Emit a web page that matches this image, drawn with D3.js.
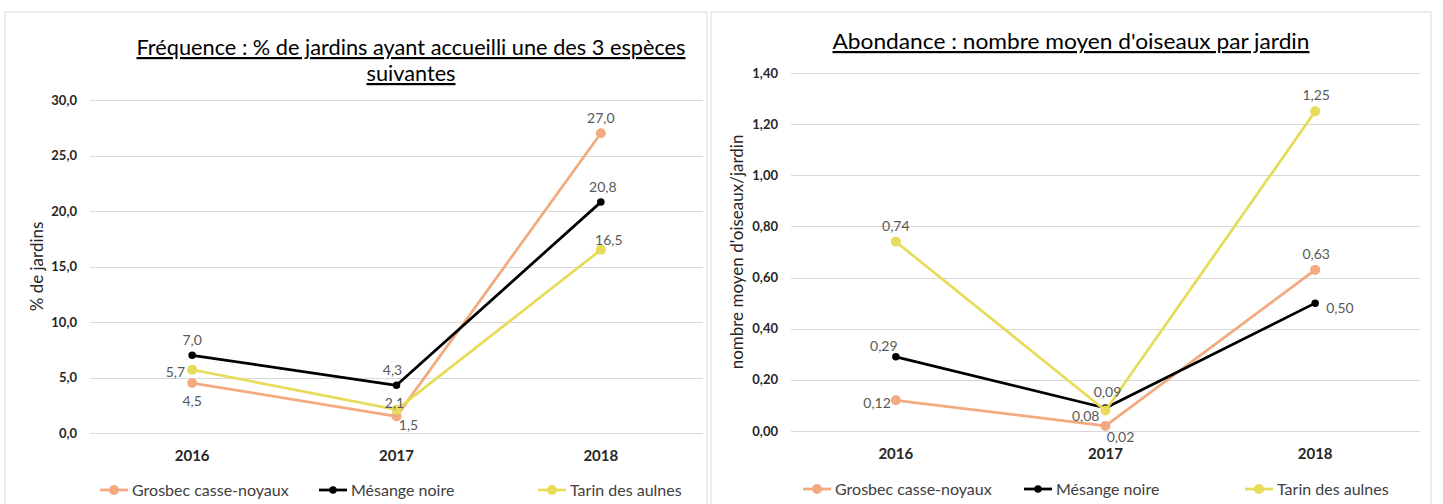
<!DOCTYPE html>
<html>
<head>
<meta charset="utf-8">
<script src="https://cdn.jsdelivr.net/npm/d3@7"></script>
<style>
  body { margin: 0; background: #fff; }
  svg { display: block; font-family: Lato, "Open Sans", sans-serif; }
</style>
</head>
<body>
<svg id="chart" width="1443" height="504"></svg>
<script>
// data
var years = ["2016", "2017", "2018"];
var seriesNames = ["Grosbec casse-noyaux", "Mésange noire", "Tarin des aulnes"];
var seriesColors = ["#F4AA80", "#000000", "#E6DC5A"];

var freqGrosbec = [4.5, 1.5, 27.0];
var freqMesange = [7.0, 4.3, 20.8];
var freqTarin = [5.7, 2.1, 16.5];
var freqTicks = [0, 5, 10, 15, 20, 25, 30];

var abGrosbec = [0.12, 0.02, 0.63];
var abMesange = [0.29, 0.09, 0.50];
var abTarin = [0.74, 0.08, 1.25];
var abTicks = [0, 0.2, 0.4, 0.6, 0.8, 1.0, 1.2, 1.4];

// label offsets [dx, dy, anchor] per series / point
var freqLabelPos = [
  [[0, 18, "middle"], [12, 9, "middle"], [0, -15, "middle"]],
  [[0, -15, "middle"], [-4, -15, "middle"], [2, -15, "middle"]],
  [[-7, 3, "end"], [-2, -6, "middle"], [8, -9, "middle"]]
];
var abLabelPos = [
  [[-5, 3, "end"], [15, 12, "middle"], [1, -15, "middle"]],
  [[-12, -10, "middle"], [2, -15, "middle"], [11, 5, "start"]],
  [[0, -15, "middle"], [-6, 6, "end"], [1, -16, "middle"]]
];

var svg = d3.select("#chart");

function drawPanel(cfg) {
  var g = svg.append("g");

  g.append("rect")
    .attr("x", cfg.box[0]).attr("y", cfg.box[1])
    .attr("width", cfg.box[2]).attr("height", cfg.box[3])
    .attr("fill", "#fff").attr("stroke", "#d9d9d9");

  var x = d3.scaleBand().domain(years).range(cfg.xr);
  var y = d3.scaleLinear().domain([0, cfg.ticks[cfg.ticks.length - 1]]).range(cfg.yr);

  // title
  var title = g.append("text")
    .attr("text-anchor", "middle")
    .attr("font-size", 22)
    .attr("fill", "#000")
    .attr("text-decoration", "underline");
  cfg.title.forEach(function(t, i) {
    title.append("tspan").attr("x", cfg.titleX).attr("y", cfg.titleY + i * 26)
      .attr("textLength", cfg.titleLen[i]).attr("lengthAdjust", "spacingAndGlyphs")
      .text(t);
  });

  // grid + ticks
  g.selectAll(".grid").data(cfg.ticks).enter().append("line")
    .attr("x1", cfg.xr[0]).attr("x2", cfg.xr[1])
    .attr("y1", function(d) { return Math.round(y(d)) + 0.5; })
    .attr("y2", function(d) { return Math.round(y(d)) + 0.5; })
    .attr("stroke", "#d9d9d9").attr("stroke-width", 1);

  g.selectAll(".tick").data(cfg.ticks).enter().append("text")
    .attr("x", cfg.xr[0] - 13)
    .attr("y", function(d) { return y(d) + 4.5; })
    .attr("text-anchor", "end")
    .attr("font-size", 13).attr("font-weight", "bold").attr("fill", "#262626")
    .text(function(d) { return d3.format(cfg.fmt)(d).replace(".", ","); });

  g.selectAll(".xl").data(years).enter().append("text")
    .attr("x", function(d) { return x(d) + x.bandwidth() / 2; })
    .attr("y", cfg.xLabelY)
    .attr("text-anchor", "middle")
    .attr("font-size", 15).attr("font-weight", "bold").attr("fill", "#262626")
    .text(function(d) { return d; });

  // y axis title
  var ymid = (cfg.yr[0] + cfg.yr[1]) / 2;
  g.append("text")
    .attr("transform", "translate(" + cfg.yTitleX + "," + ymid + ") rotate(-90)")
    .attr("text-anchor", "middle")
    .attr("font-size", 17).attr("fill", "#262626")
    .text(cfg.yTitle);

  var line = d3.line()
    .x(function(d, i) { return x(years[i]) + x.bandwidth() / 2; })
    .y(function(d) { return y(d); });

  cfg.series.forEach(function(vals, s) {
    var sg = g.append("g");
    sg.append("path")
      .datum(vals)
      .attr("fill", "none")
      .attr("stroke", seriesColors[s])
      .attr("stroke-width", 2.75)
      .attr("stroke-linejoin", "round")
      .attr("d", line);
    sg.selectAll("circle").data(vals).enter().append("circle")
      .attr("cx", function(d, i) { return x(years[i]) + x.bandwidth() / 2; })
      .attr("cy", function(d) { return y(d); })
      .attr("r", s === 1 ? 3.75 : 5)
      .attr("fill", seriesColors[s]);
  });

  cfg.series.forEach(function(vals, s) {
    g.selectAll(".lbl" + s).data(vals).enter().append("text")
      .attr("x", function(d, i) { return x(years[i]) + x.bandwidth() / 2 + cfg.labelPos[s][i][0]; })
      .attr("y", function(d, i) { return y(d) + cfg.labelPos[s][i][1] + 4.5; })
      .attr("text-anchor", function(d, i) { return cfg.labelPos[s][i][2]; })
      .attr("font-size", 14).attr("fill", "#595959")
      .text(function(d) { return d3.format(cfg.fmtLabel)(d).replace(".", ","); });
  });

  // legend (Excel gives every entry the same width)
  var lg = g.append("g").attr("transform", "translate(" + cfg.legendX + "," + cfg.legendY + ")");
  seriesNames.forEach(function(name, s) {
    var it = lg.append("g").attr("transform", "translate(" + (s * cfg.legendStep) + ",0)");
    it.append("line").attr("x1", 0).attr("x2", 28).attr("y1", 0).attr("y2", 0)
      .attr("stroke", seriesColors[s]).attr("stroke-width", 2.75);
    it.append("circle").attr("cx", 14).attr("cy", 0).attr("r", s === 1 ? 3.75 : 5)
      .attr("fill", seriesColors[s]);
    it.append("text").attr("x", 32).attr("y", 5.5)
      .attr("font-size", 16).attr("fill", "#404040").text(name);
  });
}

drawPanel({
  box: [5, 12, 702, 500],
  xr: [90, 703], yr: [433, 100],
  ticks: freqTicks, fmt: ".1f", fmtLabel: ".1f",
  series: [freqGrosbec, freqMesange, freqTarin],
  labelPos: freqLabelPos,
  title: ["Fréquence : % de jardins ayant accueilli une des 3 espèces", "suivantes"],
  titleLen: [549, 89],
  titleX: 411, titleY: 55,
  yTitle: "% de jardins", yTitleX: 43,
  xLabelY: 461,
  legendX: 100, legendY: 490, legendStep: 219
});

drawPanel({
  box: [711, 12, 720, 500],
  xr: [791, 1420], yr: [431, 73],
  ticks: abTicks, fmt: ".2f", fmtLabel: ".2f",
  series: [abGrosbec, abMesange, abTarin],
  labelPos: abLabelPos,
  title: ["Abondance : nombre moyen d'oiseaux par jardin"],
  titleLen: [477],
  titleX: 1071, titleY: 49,
  yTitle: "nombre moyen d'oiseaux/jardin", yTitleX: 743,
  xLabelY: 459,
  legendX: 803, legendY: 489, legendStep: 221
});
</script>
</body>
</html>
